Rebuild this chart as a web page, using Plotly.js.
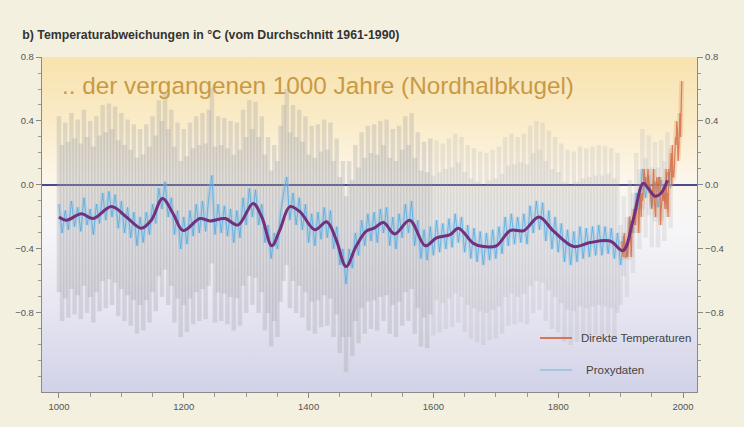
<!DOCTYPE html>
<html>
<head>
<meta charset="utf-8">
<script src="https://cdn.plot.ly/plotly-3.0.1.min.js"></script>
<style>
  html, body { margin: 0; padding: 0; background: #f3f0df; }
  #chart { width: 744px; height: 427px; }
</style>
</head>
<body>
<div id="chart"></div>
<script>
// ---------- DATA ----------
// Smoothed (40-year) reconstruction, key points
const smoothYears = [1000,1012,1036,1055,1084,1108,1132,1148,1166,1183,1199,1226,1242,1266,1287,1311,1325,1341,1354,1370,1386,1410,1429,1444,1460,1476,1492,1505,1520,1538,1562,1587,1605,1627,1640,1664,1680,1701,1723,1745,1769,1793,1825,1851,1883,1904,1920,1936,1944,1955,1965,1975];
const smoothValues = [-0.20,-0.22,-0.18,-0.21,-0.135,-0.20,-0.27,-0.22,-0.085,-0.18,-0.285,-0.21,-0.225,-0.21,-0.25,-0.115,-0.20,-0.38,-0.28,-0.135,-0.167,-0.28,-0.23,-0.34,-0.51,-0.385,-0.29,-0.27,-0.235,-0.306,-0.22,-0.38,-0.33,-0.31,-0.27,-0.365,-0.385,-0.38,-0.285,-0.285,-0.20,-0.29,-0.385,-0.36,-0.35,-0.41,-0.22,0.01,-0.02,-0.07,-0.05,0.03];

// Proxy data (every 5 years, 1000-1980)
const proxyStart = 1000, proxyStep = 5;
const proxyValues = [
-0.12,-0.30,-0.16,-0.28,-0.10,-0.26,-0.14,-0.29,-0.08,-0.25,-0.15,-0.31,-0.12,-0.24,-0.05,-0.22,-0.04,-0.20,-0.06,-0.27,
-0.10,-0.30,-0.14,-0.33,-0.17,-0.38,-0.20,-0.36,-0.17,-0.31,-0.12,-0.24,-0.02,-0.15,0.02,-0.20,-0.08,-0.31,-0.16,-0.40,
-0.20,-0.37,-0.16,-0.32,-0.12,-0.30,-0.10,-0.29,-0.08,0.06,-0.31,-0.12,-0.30,-0.13,-0.32,-0.15,-0.36,-0.16,-0.33,-0.08,
-0.25,-0.02,-0.20,-0.03,-0.25,-0.12,-0.36,-0.25,-0.46,-0.30,-0.40,-0.18,-0.05,0.05,-0.22,-0.05,-0.25,-0.08,-0.28,-0.12,
-0.36,-0.18,-0.38,-0.17,-0.34,-0.14,-0.33,-0.16,-0.40,-0.26,-0.50,-0.40,-0.62,-0.40,-0.52,-0.30,-0.44,-0.22,-0.38,-0.18,
-0.35,-0.17,-0.36,-0.15,-0.30,-0.14,-0.38,-0.20,-0.40,-0.18,-0.33,-0.12,-0.30,-0.10,-0.38,-0.22,-0.46,-0.28,-0.47,-0.26,
-0.44,-0.22,-0.42,-0.24,-0.40,-0.21,-0.39,-0.18,-0.36,-0.20,-0.42,-0.25,-0.46,-0.27,-0.48,-0.29,-0.50,-0.30,-0.47,-0.28,
-0.46,-0.26,-0.43,-0.20,-0.38,-0.18,-0.37,-0.20,-0.36,-0.18,-0.37,-0.13,-0.30,-0.10,-0.28,-0.11,-0.35,-0.16,-0.40,-0.20,
-0.42,-0.24,-0.48,-0.28,-0.50,-0.29,-0.48,-0.26,-0.46,-0.27,-0.45,-0.26,-0.44,-0.25,-0.44,-0.26,-0.43,-0.27,-0.46,-0.30,
-0.50,-0.32,-0.45,-0.22,-0.30,-0.05,-0.15,0.10,-0.08,0.06,-0.14,0.02,-0.14,0.03,-0.10,0.08,-0.02
];

// Uncertainty (2 sigma half-width) per period
const uncertaintyFrom = [1000, 1600, 1900];
const uncertaintyTo   = [1600, 1900, 1980];
const uncertaintyHalf = [0.55, 0.50, 0.25];

// Direct (instrumental) temperatures, annual 1902-1998
const instrStart = 1902;
const instrValues = [
-0.35,-0.40,-0.45,-0.35,-0.30,-0.45,-0.45,-0.45,-0.40,-0.45,-0.40,-0.35,-0.20,-0.20,-0.35,-0.45,-0.30,-0.25,-0.25,-0.15,
-0.25,-0.20,-0.25,-0.15,-0.10,-0.15,-0.15,-0.30,-0.10,-0.05,-0.10,-0.20,-0.05,-0.10,-0.05,0.05,0.10,0.00,0.05,0.00,
0.00,0.05,0.10,0.00,-0.05,0.00,-0.05,-0.05,-0.15,-0.05,0.00,0.10,-0.10,-0.15,-0.20,0.00,0.05,0.00,-0.05,0.05,
0.00,0.05,-0.25,-0.15,-0.10,-0.05,-0.10,0.00,-0.05,-0.15,-0.10,0.10,-0.15,-0.05,-0.20,0.10,0.00,0.05,0.10,0.20,
0.00,0.25,0.05,0.05,0.10,0.20,0.30,0.25,0.40,0.35,0.15,0.20,0.30,0.45,0.30,0.50,0.65
];

// Axis ticks
const xTickVals = [1000, 1200, 1400, 1600, 1800, 2000];
const yTickVals = [-0.8, -0.4, 0.0, 0.4, 0.8];

// Texts
const chartTitle = "b) Temperaturabweichungen in °C (vom Durchschnitt 1961-1990)";
const panelText = ".. der vergangenen 1000 Jahre (Nordhalbkugel)";
const legendNames = ["Direkte Temperaturen", "Proxydaten"];

// ---------- BUILD ----------
const proxyYears = proxyValues.map((v, i) => proxyStart + i * proxyStep);
const instrYears = instrValues.map((v, i) => instrStart + i);

const traces = [];
const bandColors = ["rgba(160,160,165,0.30)", "rgba(170,170,175,0.22)", "rgba(175,175,180,0.22)"];
uncertaintyFrom.forEach((f, k) => {
  const xs = [], ys = [];
  proxyYears.forEach((yr, i) => {
    if (yr >= f && yr < uncertaintyTo[k] + (k === uncertaintyFrom.length - 1 ? 1 : 0)) { xs.push(yr); ys.push(proxyValues[i]); }
  });
  traces.push({
    type: "scatter", mode: "markers", x: xs, y: ys,
    marker: { size: 1, opacity: 0 },
    error_y: { type: "constant", value: uncertaintyHalf[k], color: bandColors[k], thickness: 4.5, width: 0 },
    hoverinfo: "skip", showlegend: false
  });
});

// proxy halo + line
traces.push({ type: "scatter", mode: "lines", x: proxyYears, y: proxyValues,
  line: { color: "rgba(130,195,235,0.35)", width: 4 }, hoverinfo: "skip", showlegend: false });
traces.push({ type: "scatter", mode: "lines", x: proxyYears, y: proxyValues, name: legendNames[1],
  line: { color: "rgba(80,165,222,0.7)", width: 1 }, showlegend: false });

// instrumental halo + line
traces.push({ type: "scatter", mode: "lines", x: instrYears, y: instrValues,
  line: { color: "rgba(225,145,100,0.3)", width: 5 }, hoverinfo: "skip", showlegend: false });
traces.push({ type: "scatter", mode: "lines", x: instrYears, y: instrValues, name: legendNames[0],
  line: { color: "rgba(210,105,65,0.8)", width: 1.2 }, showlegend: false });

// smoothed curve
traces.push({ type: "scatter", mode: "lines", x: smoothYears, y: smoothValues,
  line: { color: "#74307c", width: 3, shape: "spline", smoothing: 1 }, hoverinfo: "skip", showlegend: false });

// right axis helper
traces.push({ type: "scatter", mode: "lines", x: [smoothYears[0]], y: [smoothValues[0]], yaxis: "y2",
  line: { width: 0 }, hoverinfo: "skip", showlegend: false });

const svg = '<svg xmlns="http://www.w3.org/2000/svg" width="100" height="100" preserveAspectRatio="none">' +
  '<defs><linearGradient id="g" x1="0" y1="0" x2="0" y2="1">' +
  '<stop offset="0" stop-color="#f8e2ae"/>' +
  '<stop offset="0.2" stop-color="#faecc9"/>' +
  '<stop offset="0.36" stop-color="#fcf6ea"/>' +
  '<stop offset="0.5" stop-color="#f7f6f7"/>' +
  '<stop offset="0.72" stop-color="#e9e8f2"/>' +
  '<stop offset="1" stop-color="#d2d2e8"/>' +
  '</linearGradient></defs><rect width="100" height="100" fill="url(#g)"/></svg>';
const bgSrc = "data:image/svg+xml;charset=utf-8," + encodeURIComponent(svg);

const tickFont = { family: "Liberation Sans, Arial, sans-serif", size: 9.5, color: "#555" };
const yAxisCommon = {
  range: [-1.294, 0.8], tickvals: yTickVals, tickformat: ".1f",
  ticks: "outside", ticklen: 5, tickcolor: "#888", tickwidth: 1,
  minor: { dtick: 0.1, ticks: "outside", ticklen: 3, tickcolor: "#999", showgrid: false },
  showline: true, linecolor: "#8a8a8a", linewidth: 1.2, showgrid: false,
  tickfont: tickFont, fixedrange: true
};

const layout = {
  width: 744, height: 427,
  margin: { l: 42, r: 47, t: 57, b: 35 },
  paper_bgcolor: "#f3f0df",
  plot_bgcolor: "#f7f6f4",
  showlegend: false,
  title: {
    text: "<b>" + chartTitle + "</b>",
    x: 0.03, xanchor: "left", xref: "container",
    y: 1 - 35 / 427, yanchor: "middle", yref: "container",
    font: { family: "Liberation Sans, Arial, sans-serif", size: 12.3, color: "#333" }
  },
  xaxis: {
    range: [972.8, 2022.4], tickvals: xTickVals,
    ticks: "outside", ticklen: 5, tickcolor: "#888",
    minor: { dtick: 50, tick0: 1000, ticks: "outside", ticklen: 4, tickcolor: "#999", showgrid: false },
    showline: true, linecolor: "#8a8a8a", linewidth: 1.2, showgrid: false, zeroline: false,
    tickfont: tickFont, fixedrange: true
  },
  yaxis: Object.assign({}, yAxisCommon, {
    zeroline: true, zerolinecolor: "#4d4a8c", zerolinewidth: 1.6
  }),
  yaxis2: Object.assign({}, yAxisCommon, {
    overlaying: "y", side: "right", zeroline: false
  }),
  images: [{
    source: bgSrc, xref: "paper", yref: "paper", x: 0, y: 1, sizex: 1, sizey: 1,
    xanchor: "left", yanchor: "top", sizing: "stretch", layer: "below"
  }],
  annotations: [
    { text: panelText, xref: "paper", yref: "paper", x: (60 - 42) / 655, y: (392 - 85) / 335,
      xanchor: "left", yanchor: "middle", showarrow: false,
      font: { family: "Liberation Sans, Arial, sans-serif", size: 24.3, color: "#c99a45" } },
    { text: legendNames[0], xref: "paper", yref: "paper", x: (579 - 42) / 655, y: (392 - 338) / 335,
      xanchor: "left", yanchor: "middle", showarrow: false,
      font: { family: "Liberation Sans, Arial, sans-serif", size: 11.5, color: "#444" } },
    { text: legendNames[1], xref: "paper", yref: "paper", x: (584 - 42) / 655, y: (392 - 370) / 335,
      xanchor: "left", yanchor: "middle", showarrow: false,
      font: { family: "Liberation Sans, Arial, sans-serif", size: 11.5, color: "#444" } }
  ],
  shapes: [
    { type: "line", xref: "paper", yref: "paper", x0: (540 - 42) / 655, x1: (572 - 42) / 655,
      y0: (392 - 338) / 335, y1: (392 - 338) / 335, line: { color: "rgba(215,100,60,0.85)", width: 2 } },
    { type: "line", xref: "paper", yref: "paper", x0: (540 - 42) / 655, x1: (572 - 42) / 655,
      y0: (392 - 370) / 335, y1: (392 - 370) / 335, line: { color: "rgba(120,180,225,0.7)", width: 1.5 } }
  ]
};

Plotly.newPlot("chart", traces, layout, { staticPlot: true, displayModeBar: false });
</script>
</body>
</html>
